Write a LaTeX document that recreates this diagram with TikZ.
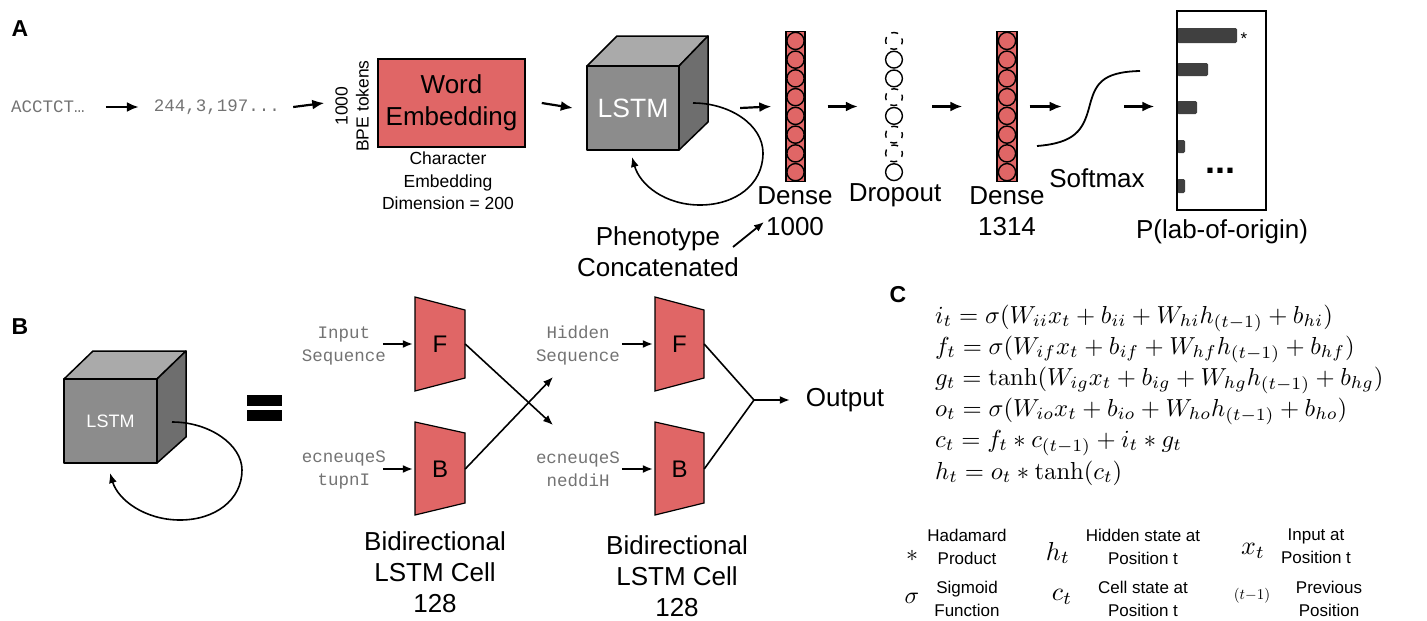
\documentclass[tikz,border=0pt]{standalone}
\usepackage[no-math]{fontspec}
\setmainfont{Liberation Sans}
\setmonofont{Liberation Mono}
\usetikzlibrary{arrows.meta}
\definecolor{redbox}{RGB}{224,102,102}
\definecolor{cubefront}{RGB}{140,140,140}
\definecolor{cubetop}{RGB}{170,170,170}
\definecolor{cubeside}{RGB}{110,110,110}
\definecolor{bargray}{RGB}{64,64,64}
\definecolor{monogray}{RGB}{115,115,115}
\newcommand{\fsz}[2]{\fontsize{#1}{#2}\selectfont}
\newcommand{\mth}[2]{\scalebox{#1}{$#2$}}
\begin{document}
\begin{tikzpicture}[x=1pt,y=-1pt,
  lbl/.style={font=\fsz{23}{27}\bfseries, inner sep=0},
  mono/.style={font=\ttfamily\fsz{17.5}{23}, text=monogray, inner sep=0, align=center},
  txt/.style={font=\fsz{26}{31}, inner sep=0, align=center},
  smalltxt/.style={font=\fsz{17.5}{22.5}, inner sep=0, align=center},
  leg/.style={font=\fsz{17}{23}, inner sep=0, align=center},
  arr/.style={line width=2.2pt, -{Latex[length=12pt,width=10pt]}},
  arrb/.style={line width=1.6pt, -{Latex[length=10pt,width=8pt]}},
  edgeline/.style={line width=1.6pt},
  cube/.style={draw=black, line width=1.5pt, line join=round},
  neuron/.style={draw=black, line width=1.4pt, fill=redbox},
  sneuron/.style={draw=black, line width=1.4pt},
  dneuron/.style={draw=black, line width=1.4pt, dash pattern=on 7pt off 6.35pt, dash phase=3.5pt},
  trap/.style={draw=black, line width=1.2pt, fill=redbox, line join=miter},
  eq/.style={font=\fsz{10}{12}, inner sep=0, anchor=base west},
  sym/.style={font=\fsz{10}{12}, inner sep=0},
  column/.style={draw=black, line width=1.4pt, fill=redbox, inner sep=0, minimum width=19pt, minimum height=150pt},
]
\useasboundingbox (0,0) rectangle (1427,621);

% ---------------- Panel A ----------------
\node[lbl] (labA) at (20,29) {A};
\node[mono] (seq) at (48,107) {ACCTCT…};
\node[mono] (tok) at (217,107) {244,3,197...};
\node[font=\fsz{17.5}{21}, inner sep=0, align=center, rotate=90] (bpe) at (352,106) {1000\\BPE tokens};
\node[draw=black, line width=1.5pt, fill=redbox, minimum width=147pt, minimum height=88pt, inner sep=0,
      font=\fsz{26}{32}, align=center] (emb) at (451.5,103) {Word\\Embedding};
\node[smalltxt] (embl) at (448,181) {Character\\Embedding\\Dimension = 200};

\draw[arr] ([xshift=21pt]seq.east) -- ([xshift=-15pt]tok.west);
\draw[arr] ([xshift=13pt]tok.east) -- ([xshift=-53pt]emb.west);

% LSTM cube A
\filldraw[cube, fill=cubetop] (587,66) -- (617,36) -- (708,36) -- (679,66) -- cycle;
\filldraw[cube, fill=cubeside] (679,66) -- (708,36) -- (708,122) -- (679,150) -- cycle;
\filldraw[cube, fill=cubefront] (587,66) rectangle (679,150);
\node[font=\fsz{26.5}{30}, text=white, inner sep=0, minimum width=92pt, minimum height=84pt] (lstmA) at (633,108) {LSTM};
\draw[arr] ([xshift=16pt]emb.east) -- ([xshift=-14pt]lstmA.west);
\coordinate (loopAs) at (693,103);
\coordinate (loopAe) at (632,157);
\draw[arrb] (loopAs) .. controls (730,103) and (763,125) .. (763,153)
  .. controls (763,185) and (735,205) .. (700,205)
  .. controls (665,205) and (640,185) .. (loopAe);

% Dense 1000
\node[column] (d1) at (795.5,106.5) {};
\foreach \i in {0,...,7} \draw[neuron] (795.5,{40.9+18.75*\i}) circle[radius=8.6];
\node[txt] (d1l) at (795,211) {Dense\\1000};
\draw[arr] ([xshift=61pt]lstmA.east) -- ([xshift=-14pt]d1.west);

% Phenotype
\node[txt] (phen) at (658,251.5) {Phenotype\\Concatenated};
\coordinate (phS) at (733,247);
\coordinate (phE) at (764,222);
\draw[line width=1.8pt, -{Latex[length=10pt,width=8pt]}] (phS) -- (phE);

% Dropout
\node[inner sep=0, minimum width=18pt, minimum height=150pt] (drop) at (894,106.5) {};
\foreach \i in {1,2,4,7} \draw[sneuron] (894,{40.9+18.75*\i}) circle[radius=8.4];
\foreach \i in {0,3,5,6} \draw[dneuron] (894,{40.9+18.75*\i}) circle[radius=8.4];
\node[txt] (dropl) at (895,195) {Dropout};
\draw[arr] ([xshift=22pt]d1.east) -- ([xshift=-27pt]drop.west);

% Dense 1314
\node[column, minimum width=20pt] (d2) at (1007,106.5) {};
\foreach \i in {0,...,7} \draw[neuron] (1007,{40.9+18.75*\i}) circle[radius=8.6];
\node[txt] (d2l) at (1007,211) {Dense\\1314};
\draw[arr] ([xshift=29pt]drop.east) -- ([xshift=-34pt]d2.west);

% Softmax
\draw[arr] ([xshift=12pt]d2.east) -- ([xshift=44pt]d2.east);
\draw[line width=1.8pt] (1037,146) .. controls (1075,143) and (1083,130) .. (1089,108)
  .. controls (1095,85) and (1100,72) .. (1140,71);
\node[txt] (smx) at (1097,178) {Softmax};

% Bar chart
\fill[bargray, rounded corners=1.5pt] (1177,28) rectangle (1237,43);
\fill[bargray, rounded corners=1.5pt] (1177,63) rectangle (1208,76);
\fill[bargray, rounded corners=1.5pt] (1177,101) rectangle (1197,114);
\fill[bargray, rounded corners=1.5pt] (1177,140) rectangle (1185,153);
\fill[bargray, rounded corners=1.5pt] (1177,179) rectangle (1185,193);
\node[draw=black, line width=1.5pt, minimum width=89pt, minimum height=199pt, inner sep=0] (bars) at (1221.5,110.5) {};
\node[font=\fsz{17}{20}, inner sep=0] (star) at (1244,39) {*};
\node[font=\fsz{36}{40}\bfseries, inner sep=0, anchor=base] (dots) at (1220,173) {...};
\coordinate (smxA) at (1124,106.5);
\draw[arr] (smxA) -- ([xshift=-22pt]bars.west |- smxA);
\node[txt] (pl) at (1222,232) {P(lab-of-origin)};

% ---------------- Panel B ----------------
\node[lbl] (labB) at (20,327) {B};
\filldraw[cube, fill=cubetop] (64,379) -- (93,351) -- (186,351) -- (157,379) -- cycle;
\filldraw[cube, fill=cubeside] (157,379) -- (186,351) -- (186,437) -- (157,463) -- cycle;
\filldraw[cube, fill=cubefront] (64,379) rectangle (157,463);
\node[font=\fsz{18}{22}, text=white, inner sep=0, minimum width=93pt, minimum height=84pt] (lstmB) at (110.5,421) {LSTM};
\coordinate (loopBs) at (172,422);
\coordinate (loopBe) at (110,473);
\draw[arrb] (loopBs) .. controls (210,422) and (242,445) .. (242,470)
  .. controls (242,500) and (215,520) .. (180,520)
  .. controls (145,520) and (118,500) .. (loopBe);
\fill[black] (247,395) rectangle (282,406);
\fill[black] (247,410) rectangle (282,421);

% trapezoids
\filldraw[trap] (415,297) -- (465,310) -- (465,378) -- (415,391) -- cycle;
\filldraw[trap] (415,422) -- (465,433) -- (465,503) -- (415,515) -- cycle;
\filldraw[trap] (655,297) -- (704,310) -- (704,378) -- (655,391) -- cycle;
\filldraw[trap] (655,422) -- (704,433) -- (704,503) -- (655,515) -- cycle;
\node[font=\fsz{24}{28}, inner sep=0, minimum width=50pt, minimum height=94pt] (F1) at (440,344) {F};
\node[font=\fsz{24}{28}, inner sep=0, minimum width=50pt, minimum height=94pt] (B1) at (440,469) {B};
\node[font=\fsz{24}{28}, inner sep=0, minimum width=49pt, minimum height=94pt] (F2) at (679.5,344) {F};
\node[font=\fsz{24}{28}, inner sep=0, minimum width=49pt, minimum height=94pt] (B2) at (679.5,469) {B};

\node[mono] (inp) at (344,345.5) {Input\\Sequence};
\node[mono] (inpr) at (344,469.5) {ecneuqeS\\tupnI};
\node[mono] (hid) at (578,345.5) {Hidden\\Sequence};
\node[mono] (hidr) at (578,469.5) {ecneuqeS\\neddiH};

\draw[arrb] ([xshift=-32pt]F1.west) -- ([xshift=-2pt]F1.west);
\draw[arrb] ([xshift=-32pt]B1.west) -- ([xshift=-2pt]B1.west);
\draw[arrb] ([xshift=-33pt]F2.west) -- ([xshift=-2pt]F2.west);
\draw[arrb] ([xshift=-33pt]B2.west) -- ([xshift=-2pt]B2.west);

\coordinate (xF) at (553,425);
\coordinate (xB) at (553,377);
\draw[arrb] (F1.east) -- (xF);
\draw[arrb] (B1.east) -- (xB);

\coordinate (junc) at (754,400);
\node[txt] (out) at (845,400) {Output};
\draw[edgeline] (F2.east) -- (junc);
\draw[edgeline] (B2.east) -- (junc);
\draw[arrb] (junc) -- ([xshift=-16pt]out.west);

\node[txt] (bi1) at (435,572) {Bidirectional\\LSTM Cell\\128};
\node[txt] (bi2) at (677,576) {Bidirectional\\LSTM Cell\\128};

% ---------------- Panel C ----------------
\node[lbl] (labC) at (898,295) {C};
\node[eq] (e1) at (935,323) {\mth{2.46}{i_t = \sigma(W_{ii}x_t + b_{ii} + W_{hi}h_{(t-1)} + b_{hi})}};
\node[eq] (e2) at (935,354) {\mth{2.46}{f_t = \sigma(W_{if}x_t + b_{if} + W_{hf}h_{(t-1)} + b_{hf})}};
\node[eq] (e3) at (935,385) {\mth{2.46}{g_t = \tanh(W_{ig}x_t + b_{ig} + W_{hg}h_{(t-1)} + b_{hg})}};
\node[eq] (e4) at (935,416) {\mth{2.46}{o_t = \sigma(W_{io}x_t + b_{io} + W_{ho}h_{(t-1)} + b_{ho})}};
\node[eq] (e5) at (935,447) {\mth{2.46}{c_t = f_t \ast c_{(t-1)} + i_t \ast g_t}};
\node[eq] (e6) at (935,479) {\mth{2.46}{h_t = o_t \ast \tanh(c_t)}};

\node[sym] (s1) at (912,556) {\mth{2.4}{\ast}};
\node[sym] (s2) at (1058,553) {\mth{2.6}{h_t}};
\node[sym] (s3) at (1253,551) {\mth{2.6}{x_t}};
\node[sym] (s4) at (912,598) {\mth{2.4}{\sigma}};
\node[sym] (s5) at (1062,597) {\mth{2.6}{c_t}};
\node[sym] (s6) at (1252,596) {\mth{1.5}{(t{-}1)}};
\node[leg] (t1) at (967,546.5) {Hadamard\\Product};
\node[leg] (t2) at (1143,546.5) {Hidden state at\\Position t};
\node[leg] (t3) at (1316,546.5) {Input at\\Position t};
\node[leg] (t4) at (967,599) {Sigmoid\\Function};
\node[leg] (t5) at (1143,599) {Cell state at\\Position t};
\node[leg] (t6) at (1329,599) {Previous\\Position};
\end{tikzpicture}
\end{document}
